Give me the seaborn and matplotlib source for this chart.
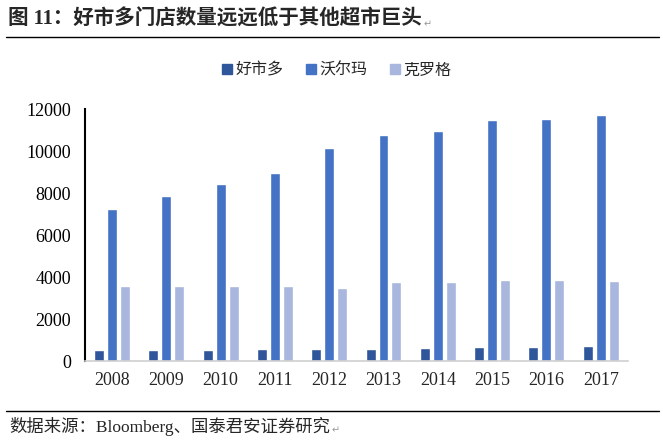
import matplotlib
matplotlib.use('Agg')
import matplotlib.pyplot as plt
from matplotlib.lines import Line2D
import pandas as pd
import seaborn as sns

# store counts
years = ['2008', '2009', '2010', '2011', '2012', '2013', '2014', '2015', '2016', '2017']
companies = ['好市多', '沃尔玛', '克罗格']
costco = [520, 530, 540, 570, 580, 590, 630, 670, 680, 720]
walmart = [7250, 7870, 8430, 8970, 10130, 10770, 10950, 11470, 11530, 11700]
kroger = [3600, 3600, 3600, 3560, 3500, 3750, 3750, 3850, 3850, 3820]
colors = ['#2F559A', '#4472C4', '#A9B6DD']

df = pd.DataFrame({
    'year': years * 3,
    'company': [companies[0]] * 10 + [companies[1]] * 10 + [companies[2]] * 10,
    'stores': costco + walmart + kroger,
})

sns.set_style('white')
plt.rcParams['font.family'] = ['Liberation Serif', 'Noto Sans CJK SC', 'DejaVu Sans']

fig = plt.figure(figsize=(6.63, 4.42), dpi=100)
ax = fig.add_axes([0.128, 0.183, 0.819, 0.570])

sns.barplot(data=df, x='year', y='stores', hue='company', palette=colors,
            width=0.715, gap=0.23, saturation=1, ax=ax, legend=False)

ax.set_ylim(0, 12000)
ax.set_yticks(range(0, 12001, 2000))
ax.set_xlabel('')
ax.set_ylabel('')
ax.tick_params(axis='y', direction='in', length=6, width=1.2, colors='black',
               labelsize=13, pad=10)
ax.tick_params(axis='x', length=0, labelsize=13, pad=8)
for lab in ax.get_xticklabels() + ax.get_yticklabels():
    lab.set_family('Liberation Serif')

for side in ['top', 'right']:
    ax.spines[side].set_visible(False)
ax.spines['left'].set_color('black')
ax.spines['left'].set_linewidth(1.5)
ax.spines['bottom'].set_color('#D0D0D0')
ax.spines['bottom'].set_linewidth(1.2)

handles = [Line2D([], [], marker='s', linestyle='', markersize=6.5,
                  markerfacecolor=c, markeredgecolor=c) for c in colors]
ax.legend(handles, companies, loc='center', bbox_to_anchor=(336 / 663, 1 - 70 / 442),
          bbox_transform=fig.transFigure, ncol=3, frameon=False,
          prop={'family': 'Noto Sans CJK SC', 'size': 11.5},
          handletextpad=0.15, columnspacing=1.3, handlelength=0.8)

# title, separator lines and source note (with the little Word return marks)
title = fig.text(0.012, 1 - 20 / 442, '图 11：好市多门店数量远远低于其他超市巨头', fontsize=14.8,
                 fontweight='bold', va='center', ha='left',
                 family=['Liberation Serif', 'Noto Sans CJK SC'])
fig.add_artist(plt.Annotation('↵', xy=(1, 0.3), xycoords=title, xytext=(1, 0),
                              textcoords='offset points', fontsize=7, color='#999999',
                              va='center', ha='left', family=['DejaVu Sans']))
fig.add_artist(Line2D([6 / 663, 659 / 663], [1 - 37 / 442, 1 - 37 / 442],
                      color='black', linewidth=1.0, transform=fig.transFigure))
fig.add_artist(Line2D([6 / 663, 659 / 663], [1 - 411 / 442, 1 - 411 / 442],
                      color='black', linewidth=1.0, transform=fig.transFigure))
note = fig.text(0.014, 1 - 426 / 442, '数据来源：Bloomberg、国泰君安证券研究', fontsize=12.5,
                va='center', ha='left', family=['Liberation Serif', 'Noto Sans CJK SC'])
fig.add_artist(plt.Annotation('↵', xy=(1, 0.3), xycoords=note, xytext=(1, 0),
                              textcoords='offset points', fontsize=7, color='#999999',
                              va='center', ha='left', family=['DejaVu Sans']))

fig.savefig('out.png', dpi=100)
